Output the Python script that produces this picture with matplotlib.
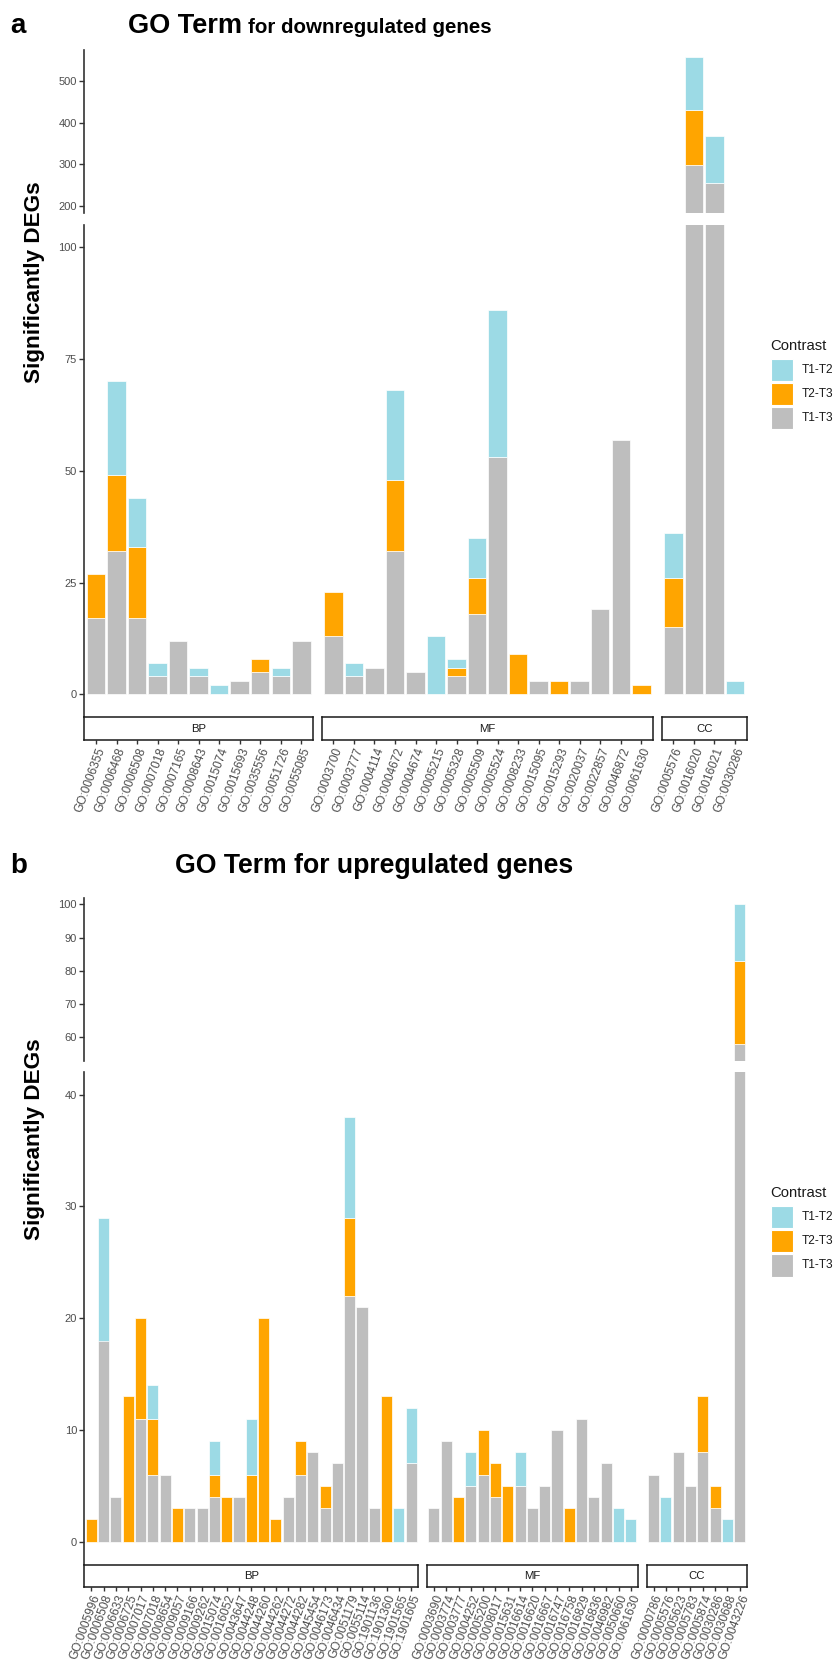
import matplotlib
matplotlib.use('Agg')
import matplotlib.pyplot as plt
from matplotlib.patches import Rectangle

plt.rcParams['font.family'] = ['Liberation Sans', 'DejaVu Sans']

W, H, DPI = 837, 1663, 100
COLORS = {'T1-T2': '#9CDAE5', 'T2-T3': '#FFA500', 'T1-T3': '#BEBEBE'}
STACK = ['T1-T3', 'T2-T3', 'T1-T2']
LEGEND_ORDER = ['T1-T2', 'T2-T3', 'T1-T3']

# ---------------- Panel a : downregulated ----------------
a_bp_terms = ['GO:0006355', 'GO:0006468', 'GO:0006508', 'GO:0007018', 'GO:0007165', 'GO:0008643',
              'GO:0015074', 'GO:0015693', 'GO:0035556', 'GO:0051726', 'GO:0055085']
a_bp_t1t3 = [17, 32, 17, 4, 12, 4, 0, 3, 5, 4, 12]
a_bp_t2t3 = [10, 17, 16, 0, 0, 0, 0, 0, 3, 0, 0]
a_bp_t1t2 = [0, 21, 11, 3, 0, 2, 2, 0, 0, 2, 0]

a_mf_terms = ['GO:0003700', 'GO:0003777', 'GO:0004114', 'GO:0004672', 'GO:0004674', 'GO:0005215',
              'GO:0005328', 'GO:0005509', 'GO:0005524', 'GO:0008233', 'GO:0015095', 'GO:0015293',
              'GO:0020037', 'GO:0022857', 'GO:0046872', 'GO:0061630']
a_mf_t1t3 = [13, 4, 6, 32, 5, 0, 4, 18, 53, 0, 3, 0, 3, 19, 57, 0]
a_mf_t2t3 = [10, 0, 0, 16, 0, 0, 2, 8, 0, 9, 0, 3, 0, 0, 0, 2]
a_mf_t1t2 = [0, 3, 0, 20, 0, 13, 2, 9, 33, 0, 0, 0, 0, 0, 0, 0]

a_cc_terms = ['GO:0005576', 'GO:0016020', 'GO:0016021', 'GO:0030286']
a_cc_t1t3 = [15, 297, 256, 0]
a_cc_t2t3 = [11, 133, 0, 0]
a_cc_t1t2 = [10, 127, 112, 3]

# ---------------- Panel b : upregulated ----------------
b_bp_terms = ['GO:0005996', 'GO:0006508', 'GO:0006633', 'GO:0006725', 'GO:0007017', 'GO:0007018',
              'GO:0008654', 'GO:0009057', 'GO:0009166', 'GO:0009262', 'GO:0015074', 'GO:0016052',
              'GO:0043647', 'GO:0044248', 'GO:0044260', 'GO:0044262', 'GO:0044272', 'GO:0044282',
              'GO:0045454', 'GO:0046173', 'GO:0046434', 'GO:0051179', 'GO:0055114', 'GO:1901136',
              'GO:1901360', 'GO:1901565', 'GO:1901605']
b_bp_t1t3 = [0, 18, 4, 0, 11, 6, 6, 0, 3, 3, 4, 0, 4, 0, 0, 0, 4, 6, 8, 3, 7, 22, 21, 3, 0, 0, 7]
b_bp_t2t3 = [2, 0, 0, 13, 9, 5, 0, 3, 0, 0, 2, 4, 0, 6, 20, 2, 0, 3, 0, 2, 0, 7, 0, 0, 13, 0, 0]
b_bp_t1t2 = [0, 11, 0, 0, 0, 3, 0, 0, 0, 0, 3, 0, 0, 5, 0, 0, 0, 0, 0, 0, 0, 9, 0, 0, 0, 3, 5]

b_mf_terms = ['GO:0003690', 'GO:0003774', 'GO:0003777', 'GO:0004252', 'GO:0005200', 'GO:0008017',
              'GO:0015631', 'GO:0016614', 'GO:0016620', 'GO:0016667', 'GO:0016747', 'GO:0016758',
              'GO:0016829', 'GO:0016836', 'GO:0046982', 'GO:0050660', 'GO:0061630']
b_mf_t1t3 = [3, 9, 0, 5, 6, 4, 0, 5, 3, 5, 10, 0, 11, 4, 7, 0, 0]
b_mf_t2t3 = [0, 0, 4, 0, 4, 3, 5, 0, 0, 0, 0, 3, 0, 0, 0, 0, 0]
b_mf_t1t2 = [0, 0, 0, 3, 0, 0, 0, 3, 0, 0, 0, 0, 0, 0, 0, 3, 2]

b_cc_terms = ['GO:0000786', 'GO:0005576', 'GO:0005623', 'GO:0005783', 'GO:0005874', 'GO:0030286',
              'GO:0030688', 'GO:0043226']
b_cc_t1t3 = [6, 0, 8, 5, 8, 3, 0, 58]
b_cc_t2t3 = [0, 0, 0, 0, 5, 2, 0, 25]
b_cc_t1t2 = [0, 4, 0, 0, 0, 0, 2, 17]

a_facets = [('BP', a_bp_terms, {'T1-T3': a_bp_t1t3, 'T2-T3': a_bp_t2t3, 'T1-T2': a_bp_t1t2}),
            ('MF', a_mf_terms, {'T1-T3': a_mf_t1t3, 'T2-T3': a_mf_t2t3, 'T1-T2': a_mf_t1t2}),
            ('CC', a_cc_terms, {'T1-T3': a_cc_t1t3, 'T2-T3': a_cc_t2t3, 'T1-T2': a_cc_t1t2})]
b_facets = [('BP', b_bp_terms, {'T1-T3': b_bp_t1t3, 'T2-T3': b_bp_t2t3, 'T1-T2': b_bp_t1t2}),
            ('MF', b_mf_terms, {'T1-T3': b_mf_t1t3, 'T2-T3': b_mf_t2t3, 'T1-T2': b_mf_t1t2}),
            ('CC', b_cc_terms, {'T1-T3': b_cc_t1t3, 'T2-T3': b_cc_t2t3, 'T1-T2': b_cc_t1t2})]

TXT = '#4D4D4D'
AXC = '#333333'

fig = plt.figure(figsize=(W / DPI, H / DPI), dpi=DPI)


def add_ax(x0, y0, x1, y1, **kw):
    return fig.add_axes([x0 / W, 1 - y1 / H, (x1 - x0) / W, (y1 - y0) / H], **kw)


def facet_x(counts, left=84.3, right=746.7, gap=8.7, pad=0.14):
    total = right - left - gap * (len(counts) - 1)
    unit = total / sum(n + pad for n in counts)
    out, x = [], left
    for n in counts:
        w = (n + pad) * unit
        out.append((x, x + w))
        x += w + gap
    return out


def draw_bars(ax, data, n):
    xs = list(range(1, n + 1))
    bottom = [0] * n
    for key in STACK:
        vals = data[key]
        idx = [i for i in range(n) if vals[i] > 0]
        ax.bar([xs[i] for i in idx], [vals[i] for i in idx], bottom=[bottom[i] for i in idx],
               width=0.9, color=COLORS[key], edgecolor='white', linewidth=0.5)
        bottom = [bottom[i] + vals[i] for i in range(n)]


def style_ax(ax, first, ylim, yticks):
    ax.set_ylim(*ylim)
    for s in ['top', 'right', 'bottom']:
        ax.spines[s].set_visible(False)
    ax.set_xticks([])
    if first:
        ax.spines['left'].set_color(AXC)
        ax.spines['left'].set_linewidth(1.2)
        ax.set_yticks(yticks)
        ax.tick_params(axis='y', length=3.4, width=1.0, color=AXC, labelsize=8, labelcolor=TXT, pad=1.8)
    else:
        ax.spines['left'].set_visible(False)
        ax.set_yticks([])
    ax.patch.set_alpha(0)


def draw_panel(facets, upper, lower, strip, ulim, llim, uticks, lticks):
    xs = facet_x([len(f[1]) for f in facets])
    for i, ((name, terms, data), (x0, x1)) in enumerate(zip(facets, xs)):
        n = len(terms)
        for (yt, yb), lim, tk in ((upper, ulim, uticks), (lower, llim, lticks)):
            ax = add_ax(x0, yt, x1, yb)
            draw_bars(ax, data, n)
            ax.set_xlim(0.43, n + 0.57)
            style_ax(ax, i == 0, lim, tk)
        sa = add_ax(x0, strip[0], x1, strip[1])
        sa.set_xlim(0.43, n + 0.57)
        sa.set_ylim(0, 1)
        for s in sa.spines.values():
            s.set_color('#1A1A1A')
            s.set_linewidth(1.1)
        sa.set_yticks([])
        sa.set_xticks(range(1, n + 1))
        sa.set_xticklabels(terms, rotation=70, ha='right', va='top', rotation_mode='anchor',
                           fontsize=8.6, color=TXT)
        sa.tick_params(axis='x', length=3.0, width=1.0, color=AXC, pad=1.5)
        sa.text(0.5, 0.5, name, transform=sa.transAxes, ha='center', va='center',
                fontsize=8.2, color='#1A1A1A')


def draw_legend(title_base, boxes):
    fig.text(770.7 / W, 1 - title_base / H, 'Contrast', fontsize=10.7, color='#1A1A1A',
             ha='left', va='baseline')
    for key, (yt, yb) in zip(LEGEND_ORDER, boxes):
        fig.add_artist(Rectangle((771 / W, 1 - yb / H), 22 / W, (yb - yt) / H,
                                 transform=fig.transFigure, facecolor=COLORS[key],
                                 edgecolor='white', linewidth=0.8))
        fig.text(801.7 / W, 1 - (yt + yb) / 2 / H, key, fontsize=8.6, color='#1A1A1A',
                 ha='left', va='center')


# Panel a
draw_panel(a_facets, (50, 213), (225, 716.7), (717, 740),
           (183, 574), (-5, 105), [200, 300, 400, 500], [0, 25, 50, 75, 100])
# Panel b
draw_panel(b_facets, (897.7, 1061), (1072.3, 1564), (1565, 1587),
           (52.8, 102), (-2, 42), [60, 70, 80, 90, 100], [0, 10, 20, 30, 40])

draw_legend(350, [(359, 381), (382.7, 405), (406.7, 429)])
draw_legend(1196.7, [(1206, 1228), (1230, 1252), (1254, 1276.7)])

# Y labels
fig.text(35 / W, 1 - 282 / H, 'Significantly DEGs', rotation=90, ha='center', va='center',
         fontsize=16.2, fontweight='bold')
fig.text(35 / W, 1 - 1139 / H, 'Significantly DEGs', rotation=90, ha='center', va='center',
         fontsize=16.2, fontweight='bold')

# Panel letters and titles
fig.text(10 / W, 1 - 33 / H, 'a', fontsize=20, fontweight='bold', va='baseline', ha='left')
fig.text(10 / W, 1 - 873 / H, 'b', fontsize=20, fontweight='bold', va='baseline', ha='left')

renderer = fig.canvas.get_renderer()
t1 = fig.text(128 / W, 1 - 33 / H, 'GO Term', fontsize=19.5, fontweight='bold', va='baseline', ha='left')
bb = t1.get_window_extent(renderer=renderer)
fig.text(bb.x1 / W + 6 / W, 1 - 33 / H, 'for downregulated genes', fontsize=14.8, fontweight='bold',
         va='baseline', ha='left')
fig.text(175 / W, 1 - 873 / H, 'GO Term for upregulated genes', fontsize=19.2, fontweight='bold',
         va='baseline', ha='left')

fig.savefig('out.png', dpi=DPI)
